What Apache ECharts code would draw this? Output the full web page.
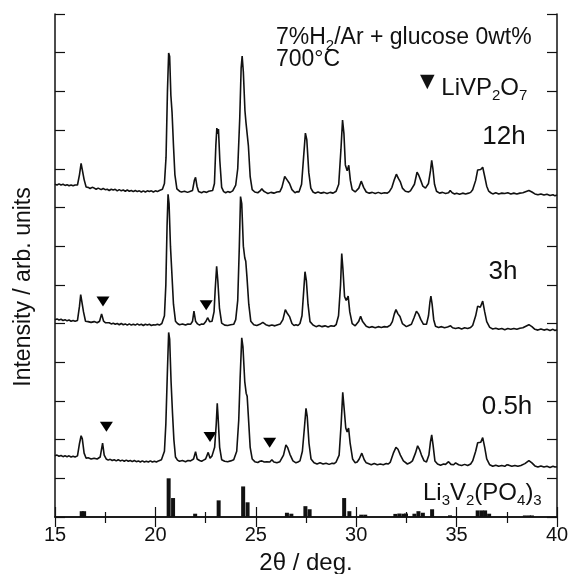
<!DOCTYPE html>
<html>
<head>
<meta charset="utf-8">
<script src="https://cdn.jsdelivr.net/npm/echarts@6/dist/echarts.min.js"></script>
<style>
html,body{margin:0;padding:0;background:#fff;}
#xrd{width:568px;height:574px;}
</style>
</head>
<body>
<div id="xrd"></div>
<script>
// XRD patterns, [2theta, intensity] stacked on a common arb. scale
var trace12h = [
    [15.0,8.60],[15.1,8.58],[15.2,8.61],[15.3,8.58],[15.4,8.60],[15.5,8.57],[15.6,8.59],[15.7,8.56],[15.8,8.58],[15.9,8.56],[16.0,8.58],
    [16.12,8.58],[16.22,8.85],[16.3,9.14],[16.36,9.10],[16.45,8.72],[16.55,8.53],
    [16.65,8.52],[16.75,8.49],[16.85,8.52],[16.95,8.50],[17.05,8.47],[17.15,8.50],[17.3,8.46],[17.4,8.49],[17.5,8.46],[17.6,8.47],
    [17.7,8.44],[17.8,8.47],[17.9,8.45],[18.0,8.47],[18.1,8.43],[18.2,8.46],[18.3,8.43],[18.4,8.45],[18.5,8.42],[18.6,8.45],
    [18.7,8.42],[18.8,8.44],[18.9,8.41],[19.0,8.44],[19.1,8.41],[19.2,8.43],[19.3,8.40],[19.4,8.43],[19.5,8.40],[19.6,8.43],
    [19.7,8.41],[19.8,8.43],[19.9,8.40],[20.0,8.43],[20.1,8.41],[20.2,8.44],
    [20.35,8.47],[20.45,8.62],[20.53,9.30],[20.6,11.0],[20.66,11.99],[20.71,11.90],[20.77,10.9],[20.83,10.45],
    [20.9,9.60],[20.97,8.85],[21.07,8.48],[21.2,8.42],[21.3,8.40],[21.45,8.42],[21.6,8.39],[21.75,8.42],[21.85,8.44],[21.94,8.70],[22.0,8.78],[22.07,8.55],[22.15,8.41],
    [22.3,8.38],[22.4,8.41],[22.55,8.39],[22.65,8.42],[22.85,8.44],[22.94,8.62],[23.01,9.60],[23.06,10.05],[23.10,9.90],[23.14,10.03],[23.21,9.20],[23.3,8.52],
    [23.4,8.41],[23.5,8.38],[23.6,8.41],[23.72,8.39],[23.85,8.43],[24.0,8.58],[24.1,9.00],[24.2,10.30],[24.27,11.60],[24.32,11.91],[24.38,11.50],[24.46,10.50],
    [24.51,10.20],[24.57,10.15],[24.63,9.60],[24.72,8.80],[24.82,8.46],[24.95,8.40],[25.1,8.38],[25.2,8.42],[25.3,8.48],[25.4,8.42],[25.5,8.39],[25.6,8.36],
    [25.75,8.39],[25.9,8.37],[26.05,8.40],[26.2,8.41],[26.3,8.52],[26.44,8.80],[26.55,8.72],[26.68,8.62],[26.8,8.46],[26.95,8.38],[27.05,8.41],[27.15,8.40],[27.28,8.60],
    [27.38,9.30],[27.47,9.92],[27.54,9.75],[27.64,8.90],[27.74,8.50],[27.85,8.40],[27.95,8.37],[28.1,8.40],[28.25,8.37],[28.4,8.39],[28.55,8.36],[28.7,8.39],[28.85,8.37],[29.0,8.42],
    [29.13,8.60],[29.24,9.50],[29.32,10.26],[29.39,9.90],[29.46,9.10],[29.55,8.95],[29.63,9.09],[29.71,8.70],[29.8,8.46],[29.95,8.40],
    [30.13,8.50],[30.25,8.68],[30.37,8.52],[30.5,8.40],[30.65,8.37],[30.8,8.39],[30.95,8.36],[31.1,8.39],[31.25,8.36],[31.4,8.38],[31.55,8.37],[31.65,8.41],[31.78,8.52],[31.9,8.72],
    [32.0,8.86],[32.1,8.75],[32.2,8.66],[32.3,8.50],[32.45,8.42],[32.6,8.40],[32.7,8.43],[32.9,8.60],[33.03,8.91],[33.1,8.85],[33.2,8.72],
    [33.32,8.55],[33.45,8.50],[33.6,8.62],[33.7,8.95],[33.76,9.22],[33.82,9.00],[33.9,8.60],[34.0,8.42],[34.15,8.37],[34.3,8.39],[34.45,8.36],[34.6,8.38],
    [34.68,8.44],[34.78,8.38],[34.9,8.35],[35.0,8.37],[35.15,8.34],[35.3,8.37],[35.45,8.35],[35.6,8.37],[35.7,8.39],[35.8,8.46],[35.95,8.70],[36.05,8.97],[36.12,8.95],[36.2,8.98],
    [36.3,9.04],[36.4,8.80],[36.5,8.55],[36.6,8.42],[36.7,8.38],[36.8,8.35],[36.95,8.38],[37.1,8.35],[37.25,8.37],[37.4,8.36],[37.55,8.38],[37.7,8.35],[37.85,8.37],[38.0,8.35],[38.15,8.37],[38.3,8.38],
    [38.5,8.42],[38.6,8.44],[38.75,8.40],[38.9,8.35],[39.05,8.33],[39.2,8.35],[39.35,8.32],[39.5,8.34],[39.65,8.31],[39.8,8.33],[39.9,8.30],[40.0,8.32]
];
var trace3h = [
    [15.0,5.10],[15.1,5.12],[15.2,5.09],[15.3,5.11],[15.4,5.08],[15.5,5.10],[15.6,5.07],[15.7,5.09],[15.8,5.06],[15.9,5.08],[16.0,5.06],
    [16.12,5.08],[16.22,5.45],[16.28,5.75],[16.34,5.70],[16.42,5.30],[16.52,5.06],
    [16.65,5.05],[16.8,5.03],[16.95,5.05],[17.1,5.02],[17.22,5.06],[17.32,5.25],[17.42,5.06],[17.52,5.02],[17.6,5.00],[17.7,5.02],[17.8,4.99],[17.9,5.01],
    [18.0,4.98],[18.1,5.00],[18.2,4.97],[18.3,5.00],[18.4,4.97],[18.5,4.99],[18.6,4.96],[18.7,4.99],[18.8,4.96],[18.9,4.98],[19.0,4.96],[19.1,4.99],
    [19.2,4.96],[19.3,4.98],[19.4,4.95],[19.5,4.98],[19.6,4.96],[19.7,4.98],[19.8,4.95],[19.9,4.97],[20.0,4.96],[20.1,4.98],[20.2,4.96],
    [20.32,5.00],[20.45,5.20],[20.52,6.00],[20.58,7.50],[20.63,8.34],[20.68,8.10],
    [20.75,7.00],[20.82,6.30],[20.9,5.50],[21.0,5.06],[21.1,5.00],[21.2,4.97],[21.35,4.99],[21.5,4.96],[21.62,4.99],[21.75,4.98],[21.85,5.06],[21.92,5.32],[22.0,5.06],
    [22.1,4.99],[22.2,4.96],[22.3,4.99],[22.4,4.98],[22.52,5.06],[22.6,5.15],[22.7,5.05],[22.82,5.06],[22.92,5.30],[22.98,5.90],[23.05,6.48],[23.11,6.10],
    [23.19,5.40],[23.3,5.01],[23.45,4.96],[23.6,4.95],[23.75,4.97],[23.9,4.98],[24.0,5.10],[24.1,5.60],[24.18,7.00],[24.24,8.28],[24.3,8.10],[24.38,7.00],
    [24.45,6.70],[24.5,6.61],[24.56,6.20],[24.65,5.50],[24.75,5.06],[24.9,4.97],[25.05,4.95],[25.2,4.98],[25.35,5.03],[25.5,4.97],[25.65,4.94],[25.8,4.96],[25.95,4.94],
    [26.1,4.97],[26.22,4.99],[26.35,5.10],[26.47,5.36],[26.55,5.28],[26.68,5.18],[26.8,5.00],[26.9,4.95],[27.0,4.97],[27.1,4.95],[27.2,5.00],[27.3,5.20],[27.38,5.80],
    [27.45,6.34],[27.52,6.10],[27.6,5.50],[27.7,5.05],[27.85,4.96],[28.0,4.92],[28.15,4.95],[28.3,4.92],[28.45,4.94],[28.6,4.91],[28.75,4.94],[28.9,4.93],[29.0,4.97],[29.12,5.20],[29.22,6.00],
    [29.28,6.81],[29.34,6.40],[29.42,5.70],[29.5,5.60],[29.6,5.71],[29.68,5.30],[29.8,5.00],[29.95,4.94],[30.12,5.05],[30.22,5.19],
    [30.32,5.05],[30.5,4.93],[30.65,4.90],[30.8,4.92],[30.95,4.89],[31.1,4.92],[31.25,4.90],[31.4,4.92],[31.55,4.91],[31.7,4.96],[31.8,5.05],[31.9,5.25],[31.98,5.36],[32.08,5.25],[32.18,5.18],
    [32.3,5.00],[32.5,4.92],[32.62,4.95],[32.75,4.98],[32.88,5.15],[33.0,5.32],[33.1,5.25],[33.22,5.10],[33.35,4.98],[33.5,4.98],[33.6,5.20],
    [33.67,5.55],[33.72,5.71],[33.78,5.50],[33.86,5.10],[33.95,4.93],[34.1,4.90],[34.25,4.92],[34.4,4.89],[34.55,4.91],[34.7,4.94],[34.8,4.89],[34.95,4.87],[35.1,4.89],
    [35.25,4.86],[35.4,4.89],[35.55,4.87],[35.7,4.90],[35.8,4.95],[35.95,5.20],[36.05,5.45],[36.1,5.49],[36.18,5.42],[36.3,5.58],[36.4,5.30],[36.5,5.05],[36.65,4.90],
    [36.8,4.86],[36.95,4.88],[37.1,4.85],[37.25,4.87],[37.4,4.84],[37.55,4.87],[37.7,4.85],[37.85,4.87],[38.0,4.85],[38.15,4.88],[38.3,4.89],[38.45,4.93],[38.6,4.97],[38.75,4.92],
    [38.9,4.85],[39.05,4.83],[39.2,4.86],[39.35,4.83],[39.5,4.85],[39.65,4.82],[39.8,4.85],[39.9,4.82],[40.0,4.84]
];
var trace05h = [
    [15.0,1.58],[15.1,1.60],[15.2,1.57],[15.3,1.59],[15.4,1.56],[15.5,1.58],[15.6,1.56],[15.7,1.58],[15.8,1.55],[15.9,1.57],[16.0,1.55],
    [16.12,1.58],[16.22,1.90],[16.3,2.10],[16.36,2.02],[16.45,1.65],[16.55,1.52],
    [16.65,1.53],[16.8,1.50],[16.95,1.52],[17.1,1.50],[17.25,1.55],[17.37,1.91],[17.45,1.60],[17.55,1.50],[17.65,1.47],[17.75,1.49],[17.85,1.46],
    [17.95,1.48],[18.05,1.45],[18.15,1.48],[18.25,1.45],[18.35,1.47],[18.45,1.44],[18.55,1.47],[18.65,1.44],[18.75,1.46],[18.85,1.43],[18.95,1.46],
    [19.05,1.43],[19.15,1.45],[19.25,1.42],[19.35,1.45],[19.45,1.42],[19.55,1.44],[19.65,1.42],[19.75,1.45],[19.85,1.42],[19.95,1.44],[20.05,1.42],[20.15,1.45],
    [20.3,1.48],[20.45,1.70],[20.52,2.40],[20.6,3.80],[20.66,4.77],[20.71,4.60],
    [20.78,3.50],[20.85,2.70],[20.92,2.00],[21.0,1.55],[21.1,1.47],[21.2,1.44],[21.35,1.46],[21.5,1.43],[21.62,1.46],[21.75,1.45],[21.9,1.50],[22.0,1.69],[22.08,1.50],
    [22.2,1.46],[22.3,1.44],[22.4,1.47],[22.5,1.50],[22.63,1.67],[22.72,1.52],[22.82,1.58],[22.95,1.80],[23.03,2.40],[23.08,2.94],[23.12,2.60],[23.2,1.80],
    [23.3,1.48],[23.45,1.44],[23.6,1.43],[23.75,1.45],[23.9,1.48],[24.05,1.70],[24.15,2.50],[24.22,3.60],[24.3,4.63],[24.36,4.40],[24.45,3.50],[24.52,3.20],
    [24.57,3.12],[24.63,2.60],[24.72,1.80],[24.82,1.50],[24.95,1.43],[25.1,1.41],[25.2,1.44],[25.3,1.45],[25.42,1.42],[25.55,1.43],[25.62,1.48],[25.7,1.42],[25.8,1.48],
    [25.9,1.42],[26.05,1.40],[26.2,1.43],[26.38,1.60],[26.5,1.86],[26.58,1.80],[26.7,1.62],[26.85,1.45],[27.0,1.40],[27.1,1.42],[27.2,1.45],[27.32,1.70],
    [27.42,2.30],[27.5,2.81],[27.56,2.60],[27.65,1.90],[27.75,1.50],[27.9,1.40],[28.05,1.37],[28.2,1.40],[28.35,1.37],[28.5,1.39],[28.65,1.36],[28.8,1.39],[28.9,1.38],[29.0,1.42],[29.15,1.60],
    [29.25,2.40],[29.33,3.22],[29.4,2.80],[29.48,2.30],[29.55,2.20],[29.62,2.30],[29.7,1.90],[29.82,1.50],[29.95,1.40],[30.05,1.42],[30.15,1.50],
    [30.28,1.65],[30.4,1.48],[30.5,1.40],[30.6,1.38],[30.75,1.35],[30.9,1.38],[31.05,1.35],[31.2,1.37],[31.35,1.35],[31.5,1.38],[31.6,1.37],[31.7,1.42],[31.85,1.65],[31.98,1.80],[32.08,1.75],[32.2,1.60],
    [32.35,1.45],[32.55,1.37],[32.68,1.40],[32.8,1.45],[32.95,1.65],[33.06,1.84],[33.15,1.75],[33.25,1.60],[33.38,1.45],[33.5,1.42],[33.62,1.60],
    [33.7,1.95],[33.76,2.12],[33.83,1.85],[33.92,1.45],[34.05,1.37],[34.2,1.34],[34.35,1.37],[34.45,1.36],[34.6,1.43],[34.72,1.36],[34.85,1.35],[34.95,1.40],[35.1,1.35],
    [35.25,1.33],[35.4,1.36],[35.55,1.33],[35.7,1.37],[35.8,1.45],[35.95,1.70],[36.05,1.92],[36.1,1.97],[36.2,1.93],[36.3,2.05],[36.4,1.80],[36.5,1.50],[36.65,1.35],
    [36.8,1.31],[36.95,1.34],[37.1,1.31],[37.25,1.33],[37.4,1.31],[37.5,1.35],[37.6,1.34],[37.75,1.31],[37.9,1.33],[38.05,1.31],[38.2,1.33],[38.4,1.38],[38.6,1.46],[38.75,1.40],
    [38.9,1.32],[39.05,1.29],[39.2,1.32],[39.35,1.29],[39.5,1.31],[39.65,1.28],[39.8,1.31],[39.9,1.29],[40.0,1.30]
];
// LiVP2O7 impurity marks
var mark3h = [[17.39,5.57],[22.53,5.47]];
var mark05h = [[17.56,2.33],[22.72,2.07],[25.69,1.92]];
// Li3V2(PO4)3 reference lines (2theta, relative intensity %)
var refPos = [16.33,16.45,20.66,20.88,21.98,23.15,24.37,24.59,26.55,26.77,27.47,27.68,29.40,29.66,30.25,30.45,
              31.95,32.15,32.35,32.48,32.90,33.10,33.32,33.78,34.67,36.05,36.25,36.42,36.62,38.40,38.60,38.75];
var refInt = [15,15,100,49,8.5,43,79,38,11,8.5,28,20,49,15,6,6,
              8,9,8.5,9,8.5,15,11,20,4.3,17,17,17,8.5,4,4,4];

var refData = [];
for (var i=0;i<refPos.length;i++){
    refData.push([refPos[i], refInt[i]/100]);
}

var FONT = '"Liberation Sans", Arial, sans-serif';
var ink = '#111';

function sub(s){ return '{s|'+s+'}'; }
function richBase(size){
    return {
        m: {fontSize: size, fontFamily: FONT, lineHeight: 30, color: ink},
        s: {fontSize: 15, fontFamily: FONT, lineHeight: 14, verticalAlign: 'bottom', color: ink},
        t: {fontSize: 19, fontFamily: 'DejaVu Sans', lineHeight: 20, verticalAlign: 'top', color: ink}
    };
}
function label(x, y, text, size, align, rot){
    return {
        type: 'text', x: x, y: y, rotation: rot || 0, silent: true,
        style: {
            text: text, rich: richBase(size),
            fontSize: size, fontFamily: FONT, fill: ink,
            align: align || 'left', verticalAlign: 'middle',
            textAlign: align || 'left', textVerticalAlign: 'middle'
        }
    };
}

var xrdChart = echarts.init(document.getElementById('xrd'));

var lineStyle = {color: ink, width: 1.6};
var axisLine = {show: true, lineStyle: {color: ink, width: 1.5}};

var option = {
    animation: false,
    backgroundColor: '#fff',
    grid: {left: 55, right: 11, top: 14, bottom: 57, containLabel: false, outerBoundsMode: 'none'},
    xAxis: [{
        type: 'value', position: 'bottom', min: 15, max: 40, interval: 5,
        axisLine: axisLine,
        axisTick: {inside: true, length: 10, lineStyle: {color: ink, width: 1.2}},
        minorTick: {show: true, splitNumber: 2, length: 5, lineStyle: {color: ink, width: 1.2}},
        splitLine: {show: false}, minorSplitLine: {show: false},
        axisLabel: {color: ink, fontSize: 20, fontFamily: FONT, margin: 8},
        name: '2θ / deg.', nameLocation: 'middle', nameGap: 34,
        nameTextStyle: {color: ink, fontSize: 24, fontFamily: FONT}
    }, {
        type: 'value', position: 'top', min: 15, max: 40, interval: 5,
        axisLine: axisLine,
        axisTick: {inside: true, length: 10, lineStyle: {color: ink, width: 1.2}},
        minorTick: {show: true, splitNumber: 2, length: 6, lineStyle: {color: ink, width: 1.2}},
        splitLine: {show: false}, axisLabel: {show: false}
    }],
    yAxis: [{
        type: 'value', position: 'left', min: 0, max: 13, interval: 1,
        axisLine: axisLine,
        axisTick: {inside: true, length: 10, lineStyle: {color: ink, width: 1.2}},
        splitLine: {show: false}, axisLabel: {show: false}
    }, {
        type: 'value', position: 'right', min: 0, max: 13, interval: 1,
        axisLine: axisLine,
        axisTick: {inside: true, length: 10, lineStyle: {color: ink, width: 1.2}},
        splitLine: {show: false}, axisLabel: {show: false}
    }],
    series: [
        {name: '12h', type: 'line', data: trace12h, showSymbol: false, lineStyle: lineStyle, silent: true},
        {name: '3h', type: 'line', data: trace3h, showSymbol: false, lineStyle: lineStyle, silent: true},
        {name: '0.5h', type: 'line', data: trace05h, showSymbol: false, lineStyle: lineStyle, silent: true},
        {name: 'LiVP2O7', type: 'scatter', data: mark3h.concat(mark05h), symbol: 'triangle', symbolRotate: 180,
            symbolSize: [13, 10], itemStyle: {color: '#000', opacity: 1}, silent: true},
        {name: 'Li3V2(PO4)3', type: 'bar', data: refData, barWidth: 4, itemStyle: {color: ink}, silent: true}
    ],
    graphic: [
        label(276, 38, '{m|7%H}'+sub('2')+'{m|/Ar + glucose 0wt%}', 23),
        label(276, 60, '{m|700°C}', 23),
        label(420, 88, '{t|▼}{m| LiVP}'+sub('2')+'{m|O}'+sub('7'), 24),
        label(504, 137, '{m|12h}', 26, 'center'),
        label(503, 272, '{m|3h}', 26, 'center'),
        label(507, 407, '{m|0.5h}', 26, 'center'),
        label(423, 493, '{m|Li}'+sub('3')+'{m|V}'+sub('2')+'{m|(PO}'+sub('4')+'{m|)}'+sub('3'), 24),
        label(24, 287, '{m|Intensity / arb. units}', 23, 'center', Math.PI/2)
    ]
};

xrdChart.setOption(option);
</script>
</body>
</html>
